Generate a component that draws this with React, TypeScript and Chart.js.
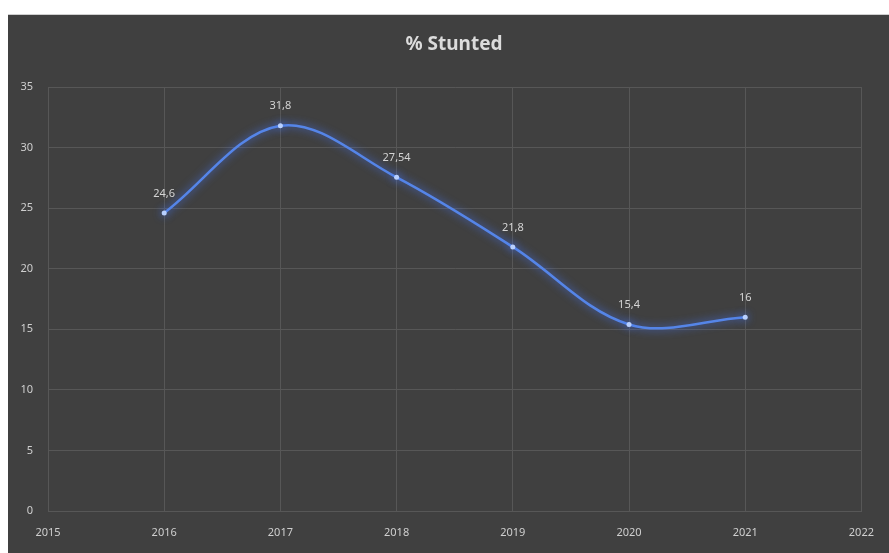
import React, { useEffect, useRef } from "react";
import { Chart, registerables } from "chart.js";

Chart.register(...registerables);

const years = [2016, 2017, 2018, 2019, 2020, 2021];
const stunted = [24.6, 31.8, 27.54, 21.8, 15.4, 16];
const pointLabels = ["24,6", "31,8", "27,54", "21,8", "15,4", "16"];
const chartTitle = "% Stunted";

const FONT = "'Noto Sans', 'Open Sans', sans-serif";

const bgPlugin = {
  id: "bgPlugin",
  beforeDraw(chart: any) {
    const { ctx, width, height } = chart;
    ctx.save();
    ctx.fillStyle = "#404040";
    ctx.fillRect(0, 0, width, height);
    ctx.fillStyle = "#cfcfcf";
    ctx.fillRect(0, 0, width, 1);
    ctx.fillStyle = "#dcdcdc";
    ctx.font = `bold 19px ${FONT}`;
    ctx.textAlign = "center";
    ctx.textBaseline = "middle";
    ctx.fillText(chartTitle, 446, 31);
    ctx.restore();
  },
};

const glowPlugin = {
  id: "glowPlugin",
  beforeDatasetDraw(chart: any) {
    const ctx = chart.ctx;
    ctx.save();
    ctx.shadowColor = "rgba(70,120,255,0.9)";
    ctx.shadowBlur = 9;
  },
  afterDatasetDraw(chart: any) {
    chart.ctx.restore();
  },
};

const labelPlugin = {
  id: "labelPlugin",
  afterDatasetsDraw(chart: any) {
    const ctx = chart.ctx;
    const meta = chart.getDatasetMeta(0);
    ctx.save();
    ctx.fillStyle = "#d4d4d4";
    ctx.font = `11px ${FONT}`;
    ctx.textAlign = "center";
    ctx.textBaseline = "bottom";
    meta.data.forEach((pt: any, i: number) => {
      ctx.fillText(pointLabels[i], pt.x, pt.y - 14);
    });
    ctx.restore();
  },
};

export default function App() {
  const ref = useRef<HTMLCanvasElement>(null);
  useEffect(() => {
    document.body.style.overflow = "hidden";
    const chart = new Chart(ref.current!, {
      type: "line",
      data: {
        datasets: [
          {
            label: chartTitle,
            data: years.map((y, i) => ({ x: y, y: stunted[i] })),
            borderColor: "#5585e8",
            borderWidth: 2.5,
            tension: 0.35,
            pointRadius: 2.5,
            pointBackgroundColor: "#b8d0ff",
            pointBorderColor: "#b8d0ff",
            pointBorderWidth: 0,
          },
        ],
      },
      options: {
        animation: false,
        responsive: false,
        layout: { padding: { left: 8, right: 27, top: 73, bottom: 8 } },
        plugins: {
          legend: { display: false },
          title: { display: false },
          tooltip: { enabled: false },
        },
        scales: {
          x: {
            type: "linear",
            min: 2015,
            max: 2022,
            ticks: {
              stepSize: 1,
              color: "#cfcfcf",
              font: { family: FONT, size: 11 },
              padding: 15,
              callback: (v: any) => String(v),
            },
            grid: { color: "#575757", drawTicks: false, lineWidth: 1 },
            border: { color: "#575757" },
            afterFit: (s: any) => {
              s.height = 34;
            },
          },
          y: {
            min: 0,
            max: 35,
            ticks: {
              stepSize: 5,
              color: "#cfcfcf",
              font: { family: FONT, size: 11 },
              padding: 15,
            },
            grid: { color: "#575757", drawTicks: false, lineWidth: 1 },
            border: { color: "#575757" },
            afterFit: (s: any) => {
              s.width = 32;
            },
          },
        },
      },
      plugins: [bgPlugin, glowPlugin, labelPlugin],
    });
    return () => chart.destroy();
  }, []);
  return (
    <div style={{ position: "absolute", left: 8, top: 14 }}>
      <canvas ref={ref} width={881} height={539} style={{ display: "block" }} />
    </div>
  );
}
